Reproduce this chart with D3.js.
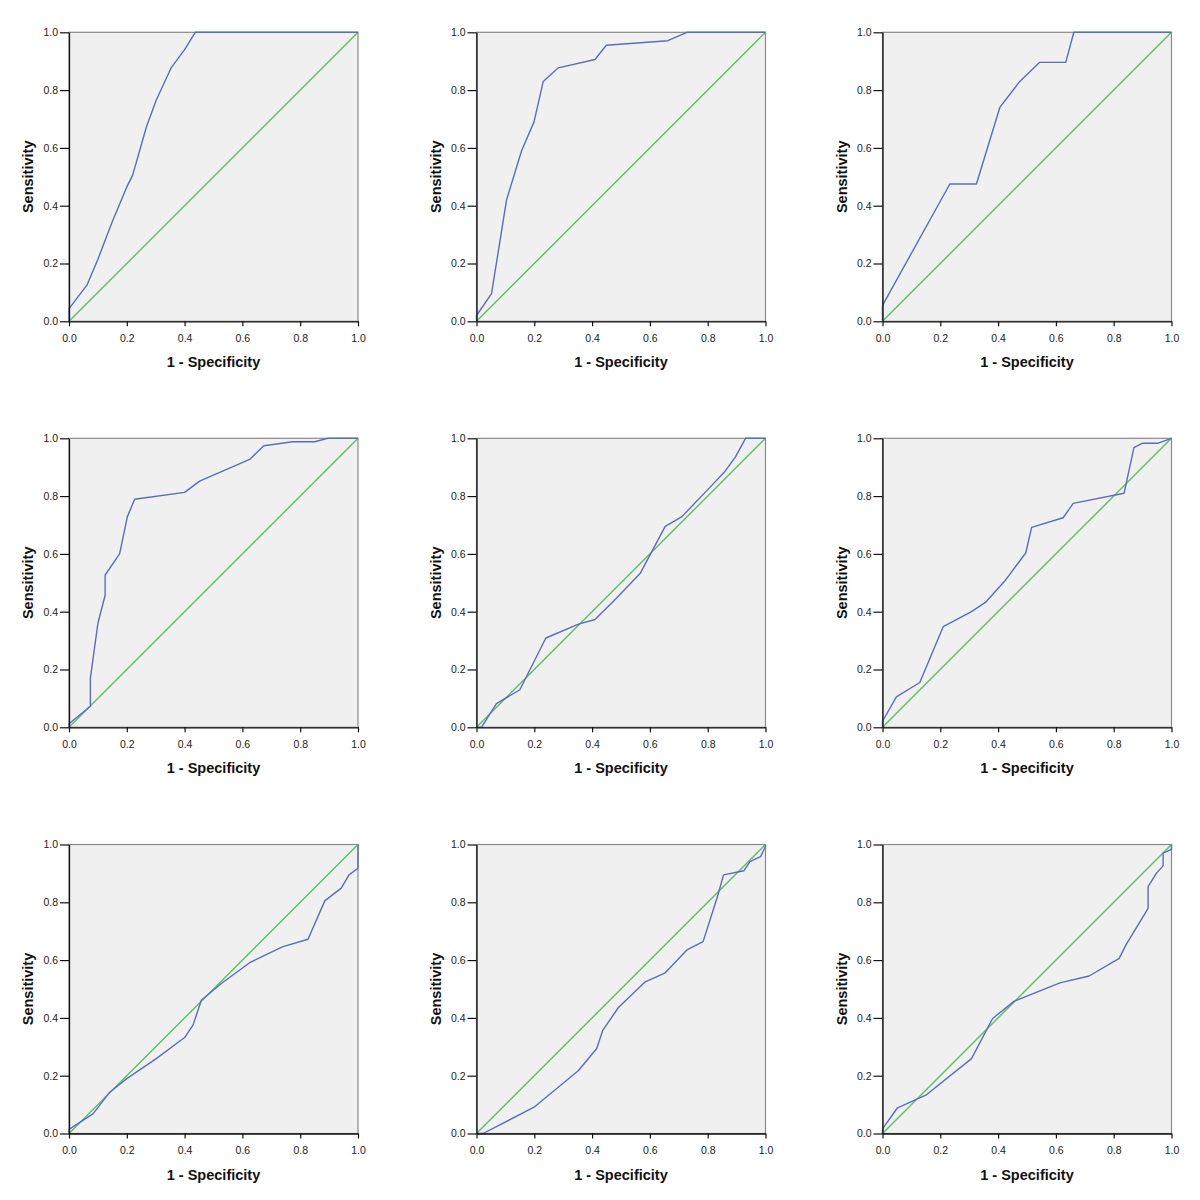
<!DOCTYPE html>
<html><head><meta charset="utf-8">
<script src="https://cdn.jsdelivr.net/npm/d3@7"></script>
<style>body{margin:0;background:#fff;}</style>
</head><body>
<svg id="c" width="1200" height="1200"></svg>
<script>
const ticks = [0, 0.2, 0.4, 0.6, 0.8, 1.0];
const xTitle = "1 - Specificity";
const yTitle = "Sensitivity";

const roc1 = [[0,0],[0,0.044],[0.062,0.125],[0.10,0.215],[0.15,0.345],[0.20,0.465],[0.22,0.505],[0.268,0.673],[0.302,0.766],[0.354,0.878],[0.40,0.94],[0.437,1.0],[1,1]];
const roc2 = [[0,0],[0,0.02],[0.052,0.096],[0.104,0.42],[0.156,0.59],[0.199,0.69],[0.231,0.83],[0.283,0.877],[0.41,0.906],[0.449,0.955],[0.662,0.971],[0.728,1.0],[1,1]];
const roc3 = [[0,0],[0,0.055],[0.233,0.475],[0.325,0.475],[0.406,0.74],[0.475,0.83],[0.544,0.896],[0.634,0.896],[0.662,1.0],[1,1]];
const roc4 = [[0,0],[0,0.012],[0.074,0.073],[0.074,0.17],[0.1,0.36],[0.125,0.457],[0.125,0.527],[0.175,0.60],[0.202,0.729],[0.227,0.789],[0.4,0.813],[0.452,0.852],[0.625,0.927],[0.674,0.974],[0.775,0.988],[0.85,0.988],[0.896,1.0],[1,1]];
const roc5 = [[0,0],[0.017,0],[0.069,0.082],[0.150,0.13],[0.240,0.309],[0.353,0.357],[0.41,0.373],[0.474,0.436],[0.566,0.532],[0.653,0.695],[0.711,0.729],[0.815,0.838],[0.861,0.887],[0.896,0.936],[0.931,1.0],[1,1]];
const roc6 = [[0,0],[0,0.021],[0.048,0.105],[0.129,0.155],[0.21,0.348],[0.308,0.40],[0.356,0.432],[0.423,0.506],[0.496,0.604],[0.516,0.692],[0.625,0.725],[0.66,0.775],[0.836,0.81],[0.87,0.968],[0.9,0.983],[0.954,0.983],[1,1]];
const roc7 = [[0,0],[0,0.014],[0.083,0.068],[0.141,0.143],[0.2,0.19],[0.302,0.259],[0.40,0.332],[0.429,0.375],[0.458,0.461],[0.527,0.519],[0.625,0.591],[0.738,0.646],[0.827,0.672],[0.885,0.805],[0.942,0.849],[0.969,0.895],[1,0.918],[1,1]];
const roc8 = [[0,0],[0.023,0],[0.199,0.091],[0.353,0.218],[0.416,0.294],[0.437,0.357],[0.491,0.436],[0.584,0.525],[0.653,0.556],[0.728,0.635],[0.784,0.664],[0.832,0.814],[0.855,0.895],[0.925,0.909],[0.946,0.941],[0.983,0.958],[1,0.993],[1,1]];
const roc9 = [[0,0],[0,0.016],[0.052,0.089],[0.152,0.134],[0.308,0.259],[0.381,0.398],[0.456,0.458],[0.614,0.521],[0.715,0.545],[0.819,0.606],[0.842,0.652],[0.919,0.779],[0.919,0.854],[0.948,0.901],[0.971,0.926],[0.971,0.97],[1,0.983],[1,1]];
const diagonal = [[0,0],[1,1]];

const curves = [roc1, roc2, roc3, roc4, roc5, roc6, roc7, roc8, roc9];

const svg = d3.select("#c");
const colLeft = [69, 476.5, 882.5];
const rowTop = [32.3, 438.3, 844.5];
const size = 289;
const FONT = "'Liberation Sans', Arial, sans-serif";

curves.forEach((data, i) => {
  const c = i % 3, r = Math.floor(i / 3);
  const g = svg.append("g").attr("transform", `translate(${colLeft[c]},${rowTop[r]})`);
  const x = d3.scaleLinear().domain([0,1]).range([0,size]);
  const y = d3.scaleLinear().domain([0,1]).range([size,0]);

  g.append("rect").attr("x",0).attr("y",0).attr("width",size).attr("height",size)
    .attr("fill","#f0f0f0").attr("stroke","#8a8a8a").attr("stroke-width",1.2);

  const line = d3.line().x(d => x(d[0])).y(d => y(d[1]));
  g.append("path").datum(diagonal).attr("d", line).attr("fill","none")
    .attr("stroke","#5cbf62").attr("stroke-width",1.4);
  g.append("path").datum(data).attr("d", line).attr("fill","none")
    .attr("stroke","#5a6dbd").attr("stroke-width",1.4).attr("stroke-linejoin","round");

  const fmt = d3.format(".1f");
  const ax = g.append("g").attr("transform",`translate(0,${size})`)
    .call(d3.axisBottom(x).tickValues(ticks).tickFormat(fmt).tickSizeInner(5).tickSizeOuter(0).tickPadding(8));
  const ay = g.append("g")
    .call(d3.axisLeft(y).tickValues(ticks).tickFormat(fmt).tickSizeInner(9).tickSizeOuter(0).tickPadding(2));
  [ax, ay].forEach(a => {
    a.select(".domain").attr("stroke","#111").attr("stroke-width",1.3);
    a.selectAll(".tick line").attr("stroke","#111").attr("stroke-width",1.2);
    a.selectAll(".tick text").attr("fill","#222").style("font-family",FONT).style("font-size","10.5px");
  });

  g.append("text").attr("x", size/2).attr("y", size + 46).attr("text-anchor","middle")
    .style("font-family",FONT).style("font-size","14.5px").style("font-weight","bold")
    .attr("fill","#111").text(xTitle);
  g.append("text").attr("transform",`translate(${-36},${size/2}) rotate(-90)`).attr("text-anchor","middle")
    .style("font-family",FONT).style("font-size","14.5px").style("font-weight","bold")
    .attr("fill","#111").text(yTitle);
});
</script>
</body></html>
